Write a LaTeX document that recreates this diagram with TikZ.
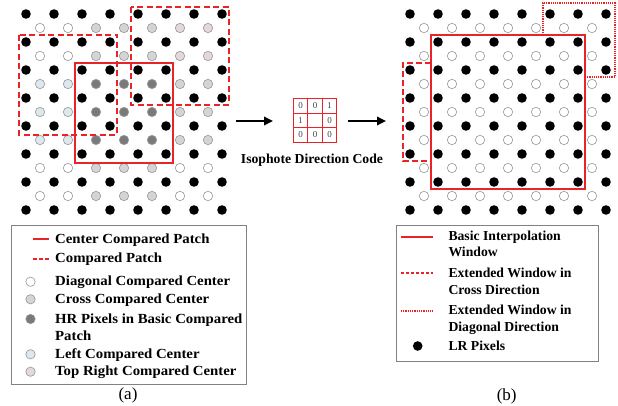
\documentclass[tikz,border=0pt]{standalone}
\usepackage{fontspec}
\setmainfont{Liberation Serif}
\newfontfamily\wideserif[FakeStretch=1.065]{Liberation Serif}
\usetikzlibrary{arrows.meta}
\definecolor{pred}{RGB}{232,36,40}
\definecolor{colW}{RGB}{255,255,255}
\definecolor{colG}{RGB}{212,212,212}
\definecolor{colD}{RGB}{122,122,122}
\definecolor{colB}{RGB}{222,232,236}
\definecolor{colP}{RGB}{228,216,216}
\definecolor{ringgray}{RGB}{150,150,150}
\definecolor{boxgray}{RGB}{130,130,130}
\begin{document}
\begin{tikzpicture}[x=1pt,y=-1pt,
  lr/.style={circle,fill=black,inner sep=0pt,minimum size=9.6pt},
  hr/.style={circle,draw=ringgray,line width=0.6pt,fill=#1,inner sep=0pt,minimum size=9.4pt},
  hr/.default=white,
  solidpatch/.style={draw=pred,line width=1.8pt},
  dashpatch/.style={draw=pred,line width=1.8pt,dash pattern=on 6pt off 3.5pt},
  crosswin/.style={draw=pred,line width=1.8pt,dash pattern=on 6pt off 3pt},
  diagwin/.style={draw=pred,line width=1.8pt,dash pattern=on 1.2pt off 1pt},
  cell/.style={draw=pred,line width=0.9pt,minimum size=14.5pt,inner sep=0pt,font=\fontsize{9}{10}\selectfont,text=black!75},
  lab/.style={anchor=base west,inner sep=0pt,text=black,font=\fontsize{13.7}{16}\selectfont\bfseries},
  labw/.style={anchor=base west,inner sep=0pt,text=black,font=\fontsize{13.9}{16}\wideserif\bfseries},
  subcap/.style={inner sep=0pt,text=black,font=\fontsize{17}{20}\selectfont},
  legbox/.style={draw=boxgray,line width=0.8pt},
  arr/.style={draw=black,fill=black,line width=1.8pt,-{Triangle[length=9pt,width=8.5pt]}}
]
\useasboundingbox (0,0) rectangle (618,406);

% ---------- left grid ----------
\foreach \i in {0,...,7}
  \foreach \j in {0,...,7}
    \node[lr] (La-\i-\j) at ({26+28*\i},{14+28*\j}) {};
\foreach \row [count=\j from 0] in {{W,W,G,G,G,P,P},{W,W,G,G,G,P,P},{B,B,D,D,D,G,G},{B,B,D,D,D,G,G},{B,B,D,D,D,G,G},{W,W,G,G,G,W,W},{W,W,G,G,G,W,W}}
  \foreach \c [count=\i from 0] in \row
    \node[hr=col\c] (Lh-\i-\j) at ({40+28*\i},{28+28*\j}) {};

\draw[solidpatch] (75,63) rectangle (173,163);
\draw[dashpatch] (19,35) rectangle (117,135);
\draw[dashpatch] (131,7) rectangle (229,105);

% ---------- right grid ----------
\foreach \i in {0,...,7}
  \foreach \j in {0,...,7}
    \node[lr] (Ra-\i-\j) at ({410+28*\i},{14+28*\j}) {};
\foreach \i in {0,...,6}
  \foreach \j in {0,...,6}
    \node[hr] (Rh-\i-\j) at ({424+28*\i},{28+28*\j}) {};

\draw[solidpatch] (431,35) rectangle (585,189);
\draw[crosswin] (431,63) -- (403,63) -- (403,161) -- (431,161);
\draw[diagwin] (543,35) -- (543,3) -- (615,3) -- (615,77) -- (585,77);

% ---------- code box & arrows ----------
\node[cell] (c11) at (300.5,105.8) {0};
\node[cell] (c12) at (315,105.8) {0};
\node[cell] (c13) at (329.5,105.8) {1};
\node[cell] (c21) at (300.5,120.3) {1};
\node[cell] (c22) at (315,120.3) {};
\node[cell] (c23) at (329.5,120.3) {0};
\node[cell] (c31) at (300.5,134.8) {0};
\node[cell] (c32) at (315,134.8) {0};
\node[cell] (c33) at (329.5,134.8) {0};
\node[inner sep=0pt,text=black,font=\fontsize{13.7}{16}\selectfont\bfseries] (codelab) at (312,160.5) {Isophote Direction Code};

\coordinate (a1s) at (236,121);
\coordinate (a1e) at (273,121);
\coordinate (a2s) at (348,121);
\coordinate (a2e) at (386,121);
\draw[arr] (a1s) -- (a1e);
\draw[arr] (a2s) -- (a2e);

% ---------- legend (a) ----------
\draw[legbox] (11.7,225) rectangle (246,384.3);
\coordinate (l1a) at (33,239); \coordinate (l1b) at (49,239);
\coordinate (l2a) at (33,259); \coordinate (l2b) at (49,259);
\draw[draw=pred,line width=1.8pt] (l1a) -- (l1b);
\draw[draw=pred,line width=1.8pt,dash pattern=on 3.5pt off 2.5pt] (l2a) -- (l2b);
\node[hr=colW] (s3) at (30.5,281.7) {};
\node[hr=colG] (s4) at (30.5,299.3) {};
\node[hr=colD] (s5) at (30.5,319) {};
\node[hr=colB] (s7) at (30.5,354.3) {};
\node[hr=colP] (s8) at (30.5,371.7) {};
\node[labw] (t1) at (55,243.5) {Center Compared Patch};
\node[labw] (t2) at (55,262.5) {Compared Patch};
\node[labw] (t3) at (55,285.9) {Diagonal Compared Center};
\node[labw] (t4) at (55,303.5) {Cross Compared Center};
\node[labw] (t5) at (55,323.2) {HR Pixels in Basic Compared};
\node[labw] (t6) at (55,340.9) {Patch};
\node[labw] (t7) at (55,358.5) {Left Compared Center};
\node[labw] (t8) at (55,375.9) {Top Right Compared Center};
\node[subcap] (capa) at (128,395) {(a)};

% ---------- legend (b) ----------
\draw[legbox] (396,225) rectangle (598.3,361.7);
\coordinate (r1a) at (401,237); \coordinate (r1b) at (433,237);
\coordinate (r2a) at (401,273); \coordinate (r2b) at (433,273);
\coordinate (r3a) at (401,311); \coordinate (r3b) at (433,311);
\draw[draw=pred,line width=1.8pt] (r1a) -- (r1b);
\draw[draw=pred,line width=1.6pt,dash pattern=on 3pt off 2pt] (r2a) -- (r2b);
\draw[draw=pred,line width=1.6pt,dash pattern=on 1pt off 0.8pt] (r3a) -- (r3b);
\node[lr] (rs4) at (417.7,346) {};
\node[lab] (u1) at (448.3,240.2) {Basic Interpolation};
\node[lab] (u2) at (448.3,256.9) {Window};
\node[lab] (u3) at (448.3,277.5) {Extended Window in};
\node[lab] (u4) at (448.3,294.2) {Cross Direction};
\node[lab] (u5) at (448.3,314.2) {Extended Window in};
\node[lab] (u6) at (448.3,331.5) {Diagonal Direction};
\node[lab] (u7) at (448.3,350.2) {LR Pixels};
\node[subcap] (capb) at (506.7,396.7) {(b)};
\end{tikzpicture}
\end{document}
